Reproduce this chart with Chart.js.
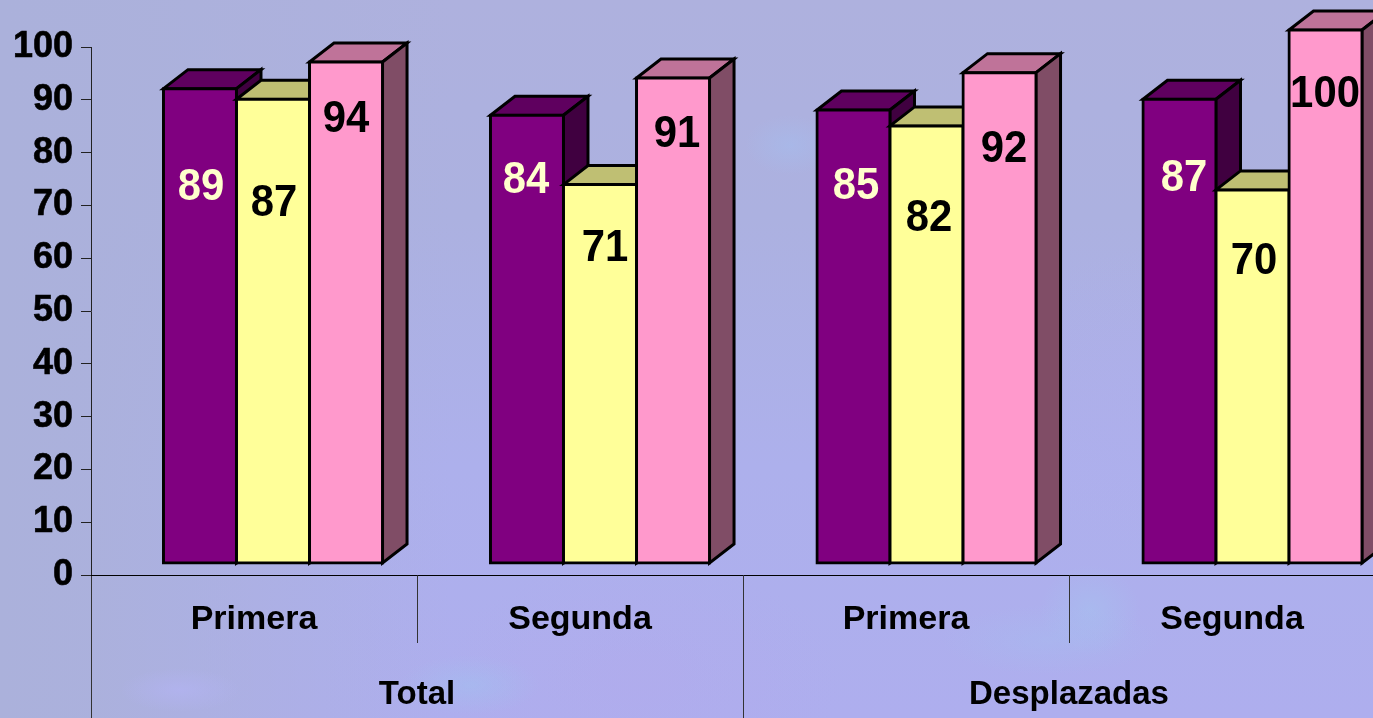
<!DOCTYPE html>
<html><head><meta charset="utf-8">
<script src="https://cdn.jsdelivr.net/npm/chart.js@4"></script>
<style>
html,body{margin:0;padding:0;width:1373px;height:718px;overflow:hidden;background-color:#aeb0e6;}
body{background-image:
 radial-gradient(ellipse 110px 35px at 1050px 640px,rgba(165,190,240,.4),transparent),
 radial-gradient(ellipse 50px 45px at 1090px 610px,rgba(165,195,240,.5),transparent),
 radial-gradient(ellipse 70px 30px at 470px 685px,rgba(160,195,240,.45),transparent),
 radial-gradient(ellipse 60px 22px at 180px 690px,rgba(180,180,245,.6),transparent),
 radial-gradient(ellipse 45px 30px at 790px 145px,rgba(165,190,240,.5),transparent),
 radial-gradient(ellipse 200px 120px at 640px 680px,rgba(178,170,236,.5),transparent),
 radial-gradient(ellipse 260px 160px at 1200px 400px,rgba(176,172,238,.4),transparent),
 linear-gradient(90deg,rgba(171,177,219,1) 0px,rgba(171,177,219,.9) 100px,rgba(171,177,219,0) 450px),
 linear-gradient(180deg,#aeb1de 0%,#acb1e0 30%,#adb0ec 65%,#aeaeee 100%);}
canvas{display:block;}
</style></head>
<body>
<canvas id="c" width="1395" height="718"></canvas>
<script>
const subCategories = ["Primera","Segunda","Primera","Segunda"];
const groupLabels = ["Total","Desplazadas"];
const seriesA = [89,84,85,87];
const seriesB = [87,71,82,70];
const seriesC = [94,91,92,100];
const yTicks = [0,10,20,30,40,50,60,70,80,90,100];

/* layout and style, apart from the data */
const DEPTH_X = 24.5, DEPTH_Y = 19;
const groupShift = [19,20,20.5,20.5];
const fills = ["#800080","#FFFF99","#FF99CC"];
const tops  = ["#5F005F","#BFBF73","#BF7399"];
const sides = ["#400040","#80804D","#804D66"];
const labelColors = ["#FFFFCC","#000000","#000000"];
/* the reference's labels were placed by hand: offsets from each bar top / centre, px */
const labelDrops = [[99,65,77,79],[104,64,93,72],[58,57,77,65]];
const labelNudges = [[1,-1,2.5,4.5],[1,5,2.5,1.5],[0,4,4.5,-0.5]];

const threeD = {
  id:"threeD",
  beforeDatasetDraw(){ return false; },
  afterDatasetsDraw(chart){
    const ctx = chart.ctx;
    chart.data.datasets.forEach((ds,i)=>{
      const meta = chart.getDatasetMeta(i);
      meta.data.forEach((el,j)=>{
        ctx.save();
        ctx.translate(groupShift[j],0);
        ctx.lineWidth = 3; ctx.strokeStyle = "#000"; ctx.lineJoin = "miter";
        const l = el.x-el.width/2, r = el.x+el.width/2, t = el.y, b = el.base;
        ctx.fillStyle = tops[i];
        ctx.beginPath();
        ctx.moveTo(l,t); ctx.lineTo(l+DEPTH_X,t-DEPTH_Y); ctx.lineTo(r+DEPTH_X,t-DEPTH_Y); ctx.lineTo(r,t);
        ctx.closePath(); ctx.fill(); ctx.stroke();
        ctx.fillStyle = sides[i];
        ctx.beginPath();
        ctx.moveTo(r,t); ctx.lineTo(r+DEPTH_X,t-DEPTH_Y); ctx.lineTo(r+DEPTH_X,b-DEPTH_Y); ctx.lineTo(r,b);
        ctx.closePath(); ctx.fill(); ctx.stroke();
        el.draw(ctx, chart.chartArea);
        ctx.restore();
      });
    });
    chart.data.datasets.forEach((ds,i)=>{
      chart.getDatasetMeta(i).data.forEach((el,j)=>{
        ctx.save();
        ctx.font = "bold 45px 'Liberation Sans'";
        ctx.textAlign = "center"; ctx.textBaseline = "middle";
        ctx.fillStyle = labelColors[i];
        ctx.translate(el.x+groupShift[j]+labelNudges[i][j], el.y+labelDrops[i][j]);
        ctx.scale(0.93,1);
        ctx.fillText(String(ds.data[j]), 0, 0);
        ctx.restore();
      });
    });
  }
};

const mk = (label,data,i)=>({label,data,yAxisID:"yBars",xAxisID:"x",backgroundColor:fills[i],borderColor:"#000",borderWidth:3,borderSkipped:false,inflateAmount:1.5,categoryPercentage:0.672,barPercentage:1});

new Chart(document.getElementById("c"),{
  type:"bar",
  data:{labels:subCategories,datasets:[mk("A",seriesA,0),mk("B",seriesB,1),mk("C",seriesC,2)]},
  plugins:[threeD],
  options:{
    responsive:false,animation:false,
    layout:{padding:{top:47,left:0,right:0,bottom:0}},
    plugins:{legend:{display:false},title:{display:false},tooltip:{enabled:false}},
    scales:{
      y:{type:"linear",position:"left",min:0,max:100,afterFit(s){s.width=91;},
        afterBuildTicks(s){s.ticks=yTicks.map(v=>({value:v}));},
        grid:{drawOnChartArea:false,tickLength:10,color:"#222",lineWidth:1},
        border:{color:"#222",width:1},
        ticks:{color:"#000",padding:8,textStrokeColor:"#000",textStrokeWidth:0.6,font:{family:"'Liberation Sans'",weight:"bold",size:36}}},
      yBars:{type:"linear",display:false,min:-2.251,max:96.81},
      x:{type:"category",position:"bottom",offset:true,afterFit(s){s.height=68;},
        grid:{offset:true,drawOnChartArea:false,tickLength:68,color:"#333",lineWidth:1},
        border:{color:"#000",width:1},
        ticks:{color:"#000",padding:-44,maxRotation:0,autoSkip:false,font:{family:"'Liberation Sans'",weight:"bold",size:34}}},
      xGroup:{type:"category",position:"bottom",labels:groupLabels,offset:true,afterFit(s){s.height=75;},
        grid:{offset:true,drawOnChartArea:false,tickLength:75,color:"#333",lineWidth:1},
        border:{display:false},
        ticks:{color:"#000",padding:-43,maxRotation:0,autoSkip:false,font:{family:"'Liberation Sans'",weight:"bold",size:33}}}
    }
  }
});
</script>
</body></html>
